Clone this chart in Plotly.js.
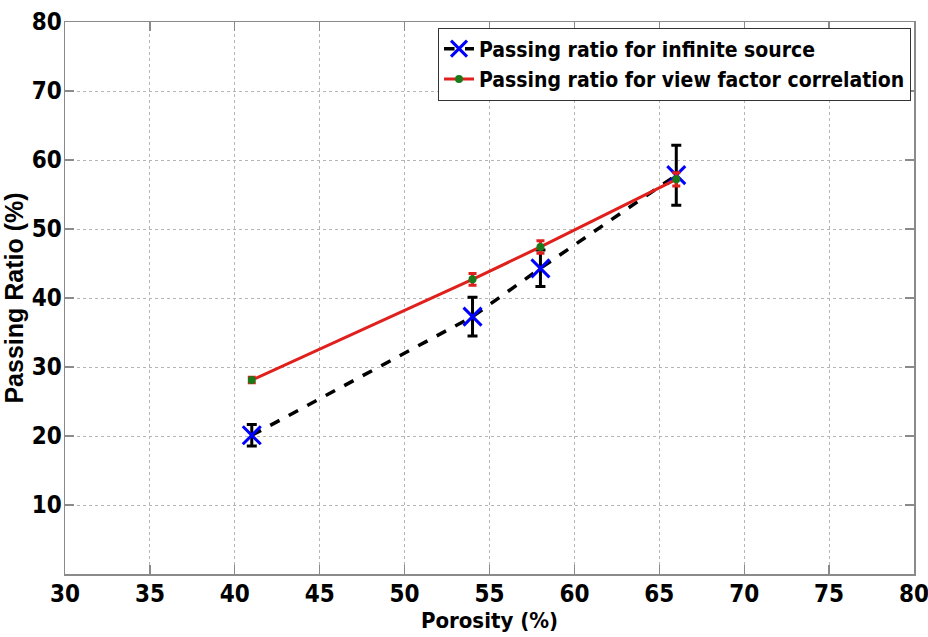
<!DOCTYPE html>
<html>
<head>
<meta charset="utf-8">
<script src="https://cdn.plot.ly/plotly-3.0.1.min.js"></script>
<style>html,body{margin:0;padding:0;background:#fff;}#chart{width:928px;height:637px;}</style>
</head>
<body>
<div id="chart"></div>
<script>
var porosity = [41, 54, 58, 66];
var infiniteSource = [20.1, 37.3, 44.3, 57.8];
var infiniteSourceErr = [1.55, 2.8, 2.65, 4.35];
var viewFactor = [28.1, 42.7, 47.4, 57.2];
var viewFactorErr = [0.4, 0.85, 0.9, 0.95];
var xTicks = [30, 35, 40, 45, 50, 55, 60, 65, 70, 75, 80];
var yTicks = [10, 20, 30, 40, 50, 60, 70, 80];

var narrow = '"DejaVu Sans Condensed", "Liberation Sans Narrow", "Arial Narrow", sans-serif';

var traces = [
  {
    x: porosity, y: infiniteSource, name: 'Passing ratio for infinite source',
    type: 'scatter', mode: 'lines+markers',
    line: {color: '#000000', width: 3.5, dash: 'dash'},
    marker: {symbol: 'x-thin-open', size: 18, color: '#0000ff', line: {color: '#0000ff', width: 3}},
    error_y: {type: 'data', array: infiniteSourceErr, visible: true, color: '#000000', thickness: 3, width: 5}
  },
  {
    x: porosity, y: viewFactor, name: 'Passing ratio for view factor correlation',
    type: 'scatter', mode: 'lines+markers',
    line: {color: '#e0201c', width: 3},
    marker: {symbol: 'circle', size: 8, color: '#1a7a1a'},
    error_y: {type: 'data', array: viewFactorErr, visible: true, color: '#e0201c', thickness: 3, width: 4}
  }
];

var axisCommon = {
  showline: true, linecolor: '#8a8a8a', linewidth: 1.5, mirror: 'ticks',
  ticks: 'inside', ticklen: 9, tickcolor: '#8a8a8a', tickwidth: 1.2,
  showgrid: true, gridcolor: '#b5b5b5', griddash: 'dot', gridwidth: 1,
  zeroline: false, ticklabeloverflow: 'allow',
  tickfont: {family: narrow, size: 24, color: '#000', weight: 'bold'}
};

var layout = {
  width: 928, height: 637,
  margin: {l: 65, r: 14, t: 22, b: 63},
  paper_bgcolor: '#fff', plot_bgcolor: '#fff',
  showlegend: true,
  legend: {
    x: 0.9965, y: 0.99, xanchor: 'right', yanchor: 'top',
    bgcolor: '#fff', bordercolor: '#333', borderwidth: 1,
    font: {family: narrow, size: 21, color: '#000', weight: 'bold'},
    itemwidth: 30, tracegroupgap: 0
  },
  xaxis: Object.assign({}, axisCommon, {
    range: [30, 80], tickvals: xTicks, ticklabelstandoff: -2,
    title: {text: 'Porosity (%)', font: {family: narrow, size: 22, color: '#000', weight: 'bold'}, standoff: 2}
  }),
  yaxis: Object.assign({}, axisCommon, {
    range: [0, 80], tickvals: yTicks, ticklabelstandoff: -3,
    title: {text: 'Passing Ratio (%)', font: {family: 'Arial, "Liberation Sans", sans-serif', size: 25, color: '#000', weight: 'bold'}, standoff: 3}
  })
};

Plotly.newPlot('chart', traces, layout, {displayModeBar: false, staticPlot: true});
</script>
</body>
</html>
